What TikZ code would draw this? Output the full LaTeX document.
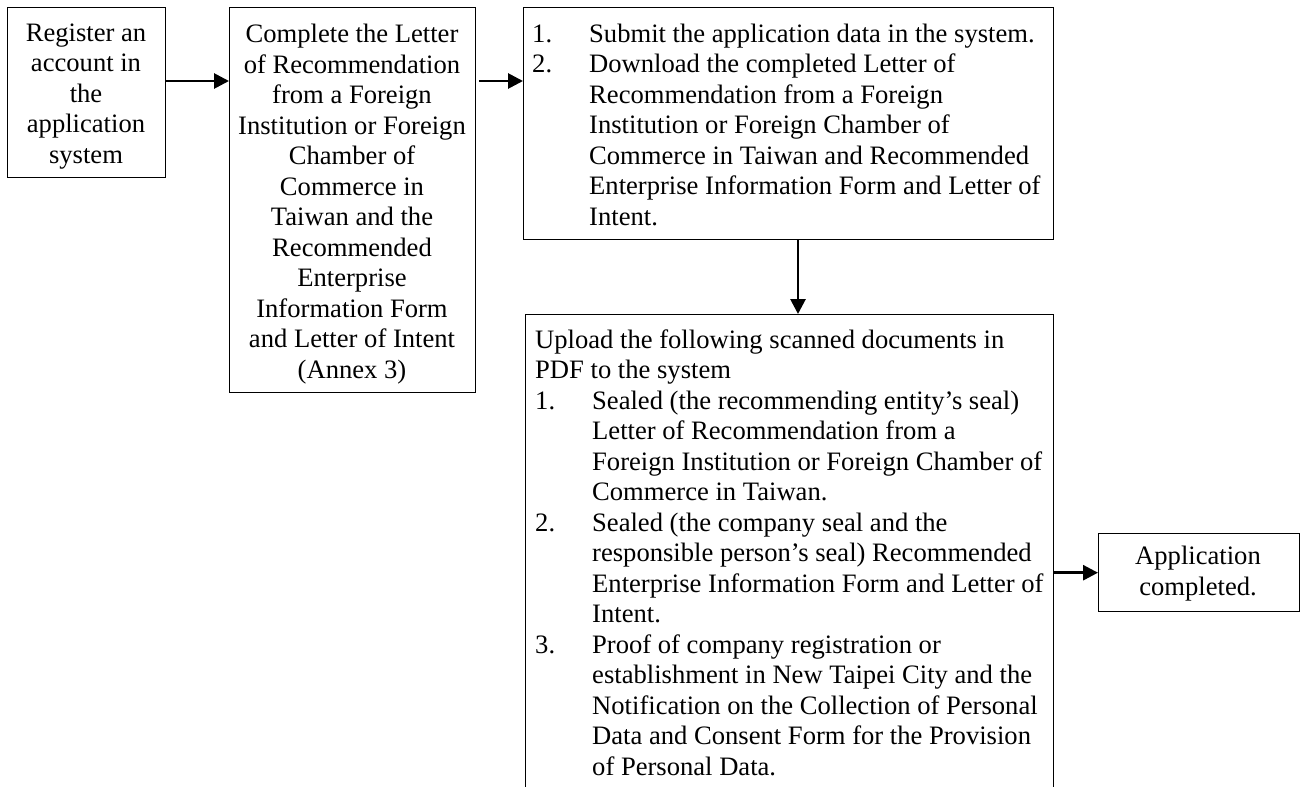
\documentclass[tikz,border=0pt]{standalone}
\usepackage{fontspec}
\setmainfont{Liberation Serif}
\usetikzlibrary{arrows.meta,calc}
\newcommand{\numitem}[1]{\makebox[57pt][l]{#1}}
\newcommand{\contind}{\hspace*{57pt}}
\tikzset{
  box/.style={draw, line width=1.4pt, inner sep=0pt, anchor=north west},
  txt/.style={inner sep=0pt, font=\fontsize{26.6}{30.5}\selectfont},
  arr/.style={line width=2.8pt, -{Triangle[length=15pt,width=15pt]}}
}
\begin{document}
\begin{tikzpicture}[x=1pt,y=-1pt]
\clip (0,0) rectangle (1301,787);
\fill[white] (0,0) rectangle (1301,787);
% boxes
\node[box, minimum width=158pt, minimum height=170pt] (A) at (7,7) {};
\node[box, minimum width=246pt, minimum height=385pt] (B) at (229,7) {};
\node[box, minimum width=530pt, minimum height=232pt] (C) at (523,7) {};
\node[box, minimum width=528pt, minimum height=500pt] (D) at (525,314) {};
\node[box, minimum width=201pt, minimum height=78pt] (E) at (1098,533) {};
% texts (anchor base = baseline of the last line)
\node[txt, anchor=base, align=center] (tA) at (86,163) {Register an\\account in\\the\\application\\system};
\node[txt, anchor=base, align=center] (tB) at (352,378) {Complete the Letter\\of Recommendation\\from a Foreign\\Institution or Foreign\\Chamber of\\Commerce in\\Taiwan and the\\Recommended\\Enterprise\\Information Form\\and Letter of Intent\\(Annex 3)};
\node[txt, anchor=base west, align=left] (tC) at (532,225) {\numitem{1.}Submit the application data in the system.\\
\numitem{2.}Download the completed Letter of\\
\contind Recommendation from a Foreign\\
\contind Institution or Foreign Chamber of\\
\contind Commerce in Taiwan and Recommended\\
\contind Enterprise Information Form and Letter of\\
\contind Intent.};
\node[txt, anchor=base west, align=left] (tD) at (535,775) {Upload the following scanned documents in\\
PDF to the system\\
\numitem{1.}Sealed (the recommending entity’s seal)\\
\contind Letter of Recommendation from a\\
\contind Foreign Institution or Foreign Chamber of\\
\contind Commerce in Taiwan.\\
\numitem{2.}Sealed (the company seal and the\\
\contind responsible person’s seal) Recommended\\
\contind Enterprise Information Form and Letter of\\
\contind Intent.\\
\numitem{3.}Proof of company registration or\\
\contind establishment in New Taipei City and the\\
\contind Notification on the Collection of Personal\\
\contind Data and Consent Form for the Provision\\
\contind of Personal Data.};
\node[txt, anchor=base, align=center] (tE) at (1198,595) {Application\\completed.};
% connectors
\coordinate (ab) at ($(A.north east)+(0,74)$);
\draw[arr] (ab) -- (ab -| B.west);
\coordinate (bc) at ($(B.north east)+(3,74)$);
\draw[arr] (bc) -- (bc -| C.west);
\coordinate (cd) at (C.south -| 798,0);
\draw[arr] (cd) -- (cd |- D.north);
\draw[arr] (E.west -| D.east) -- (E.west);
\end{tikzpicture}
\end{document}
